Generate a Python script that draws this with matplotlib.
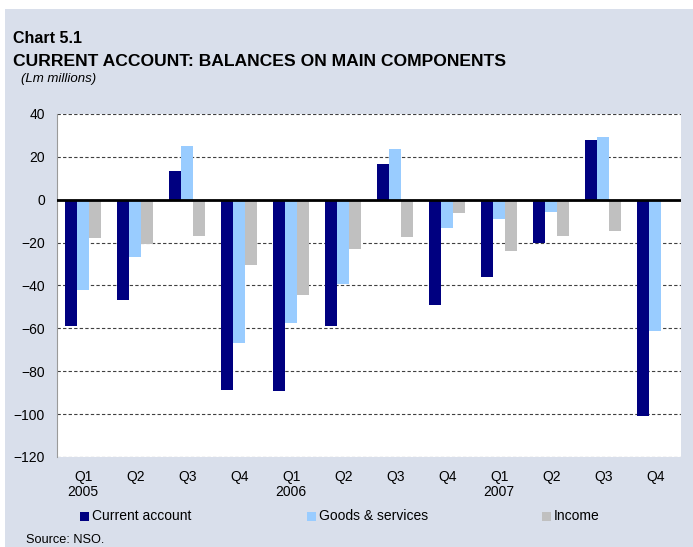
import numpy as np
import matplotlib.pyplot as plt

plt.rcParams['font.family'] = ['Liberation Sans', 'DejaVu Sans']

quarters = ['Q1\n2005', 'Q2', 'Q3', 'Q4', 'Q1\n2006', 'Q2', 'Q3', 'Q4',
            'Q1\n2007', 'Q2', 'Q3', 'Q4']
current_account = [-58.7, -46.8, 13.5, -88.7, -89.4, -58.9, 16.6, -49.0,
                   -36.2, -20.2, 28.0, -100.7]
goods_services = [-42.0, -26.9, 25.2, -67.0, -57.7, -39.3, 23.8, -13.4,
                  -9.2, -5.9, 29.4, -61.4]
income = [-18.0, -20.8, -17.1, -30.6, -44.6, -23.2, -17.6, -6.4,
          -23.8, -17.0, -14.8, 0.0]

bg = '#D9DFEB'
W, H = 693, 547
fig = plt.figure(figsize=(W / 100, H / 100), dpi=100, facecolor='white')
# shaded panel behind the whole chart
fig.patches.append(plt.Rectangle((5 / W, 0), 1 - 5 / W, 1 - 9 / H,
                                 transform=fig.transFigure, facecolor=bg,
                                 edgecolor='none', zorder=-10))

ax = fig.add_axes([57.3 / W, (H - 457) / H, 624 / W, 343 / H])
ax.set_facecolor('white')

x = np.arange(len(quarters))
bw = 0.232
series = [(current_account, '#000080', 'Current account'),
          (goods_services, '#99CCFF', 'Goods & services'),
          (income, '#C0C0C0', 'Income')]
for i, (vals, col, lab) in enumerate(series):
    ax.bar(x + (i - 1) * bw, vals, bw, color=col, label=lab, zorder=3)

ax.set_xlim(-0.5, len(quarters) - 0.5)
ax.set_ylim(-120, 40)
ax.set_yticks(np.arange(-120, 41, 20))
ax.yaxis.grid(True, linestyle=(0, (3, 2)), color='#404040', linewidth=0.8, zorder=1)
ax.axhline(0, color='black', linewidth=2, zorder=4)
ax.set_xticks(x)
ax.set_xticklabels(quarters, fontsize=10, linespacing=1.1)
ax.tick_params(axis='both', length=0, labelsize=10)
ax.tick_params(axis='x', pad=9)
ax.tick_params(axis='y', pad=9)
for s in ['top', 'right', 'bottom']:
    ax.spines[s].set_visible(False)
ax.spines['left'].set_color('#9A9A9A')

fig.text(13 / W, 1 - 43 / H, 'Chart 5.1', fontsize=11.5, fontweight='bold')
fig.text(13 / W, 1 - 66 / H, 'CURRENT ACCOUNT: BALANCES ON MAIN COMPONENTS',
         fontsize=12.6, fontweight='bold')
fig.text(21 / W, 1 - 82 / H, '(Lm millions)', fontsize=9.5, style='italic')
fig.text(26 / W, 1 - 546 / H, 'Source: NSO.', fontsize=9.2, va='bottom')

# legend entries spread across the bottom
for (vals, col, lab), lx in zip(series, [80, 307, 542]):
    fig.patches.append(plt.Rectangle((lx / W, 1 - 521 / H), 9 / W, 9 / H,
                                     transform=fig.transFigure, facecolor=col,
                                     edgecolor='none'))
    fig.text((lx + 12) / W, 1 - 516 / H, lab, fontsize=10, va='center')

fig.savefig('out.png', dpi=100, facecolor='white')
